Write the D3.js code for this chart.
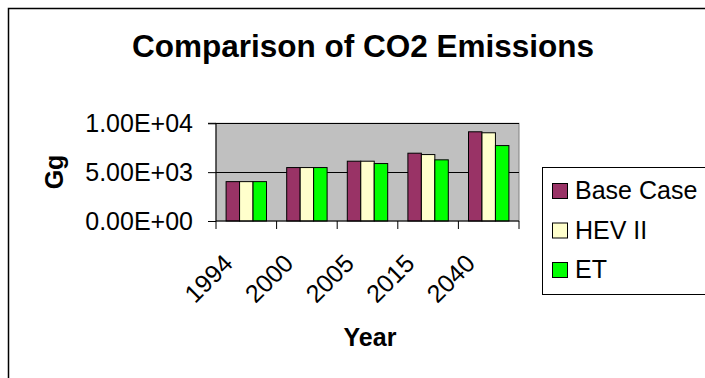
<!DOCTYPE html>
<html><head><meta charset="utf-8">
<script src="https://cdn.jsdelivr.net/npm/d3@7"></script>
<style>html,body{margin:0;padding:0;background:#fff;}svg{display:block;font-family:"Liberation Sans",Arial,sans-serif;}</style>
</head><body><svg id="c" width="705" height="378"></svg>
<script>
const categories = ["1994","2000","2005","2015","2040"];
const seriesNames = ["Base Case","HEV II","ET"];
const baseCase = [4030, 5470, 6120, 6940, 9130];
const hevII    = [4030, 5470, 6120, 6800, 9030];
const et       = [4030, 5470, 5880, 6260, 7720];
const yTicks = [0, 5000, 10000];
const colors = ["#993366","#ffffcc","#00ff00"];

const values = [baseCase, hevII, et];
const svg = d3.select("#c");
const P = {l:216, r:519, t:123.3, b:221};

svg.append("rect").attr("x",8.5).attr("y",8.5).attr("width",760).attr("height",420)
  .attr("fill","#fff").attr("stroke","#000").attr("stroke-width",1.5);

svg.append("text").attr("x",363).attr("y",57).attr("text-anchor","middle")
  .attr("font-size",31.5).attr("font-weight","bold").text("Comparison of CO2 Emissions");

const x0 = d3.scaleBand().domain(categories).range([P.l,P.r]).padding(0);
const bw = x0.bandwidth()/4.5;
const x1 = d3.scaleBand().domain(seriesNames).range([bw*0.75, bw*3.75]).padding(0);
const y = d3.scaleLinear().domain([0,10000]).range([P.b,P.t]);

svg.append("rect").attr("x",P.l).attr("y",P.t).attr("width",P.r-P.l).attr("height",P.b-P.t)
  .attr("fill","#c0c0c0").attr("stroke","#808080").attr("stroke-width",1);

svg.append("g").selectAll("line").data(yTicks.filter(d=>d>0)).join("line")
  .attr("x1",P.l).attr("x2",P.r).attr("y1",d=>Math.round(y(d))+0.5).attr("y2",d=>Math.round(y(d))+0.5)
  .attr("stroke","#000").attr("stroke-width",1);

const g = svg.append("g");
categories.forEach((c,i)=>{
  seriesNames.forEach((s,j)=>{
    g.append("rect").attr("x",x0(c)+x1(s)).attr("y",y(values[j][i]))
     .attr("width",x1.bandwidth()).attr("height",P.b-y(values[j][i]))
     .attr("fill",colors[j]).attr("stroke","#000").attr("stroke-width",1);
  });
});

// y axis
const ya = d3.axisLeft(y).tickValues(yTicks).tickSize(8).tickPadding(15)
  .tickFormat(d=>d3.format(".2e")(d).replace(/e([+-])(\d)$/,"e$10$2").toUpperCase());
const yg = svg.append("g").attr("transform",`translate(${P.l},0)`).call(ya);
yg.selectAll("text").attr("font-size",25).attr("font-family","Liberation Sans, Arial, sans-serif").attr("fill","#000");
yg.selectAll("line,path").attr("stroke","#000");
yg.select("path").attr("d",`M-8,${P.t}H0V${P.b}`);

// x axis
const xa = d3.axisBottom(x0).tickSize(0).tickFormat("");
const xg = svg.append("g").attr("transform",`translate(0,${P.b})`).call(xa);
xg.select("path").attr("d",`M${P.l},0H${P.r}`).attr("stroke","#000");
const bounds = categories.map(c=>x0(c)).concat([P.r]);
xg.selectAll(".bt").data(bounds).join("line").attr("class","bt")
  .attr("x1",d=>d).attr("x2",d=>d).attr("y1",0).attr("y2",8).attr("stroke","#000");
svg.append("g").selectAll("text").data(categories).join("text")
  .attr("transform",d=>`translate(${x0(d)+x0.bandwidth()/2-12},${P.b+44}) rotate(-45)`)
  .attr("text-anchor","end").attr("font-size",25).text(d=>d);

svg.append("text").attr("transform","translate(63,172) rotate(-90)").attr("text-anchor","middle")
  .attr("font-size",25).attr("font-weight","bold").text("Gg");
svg.append("text").attr("x",370).attr("y",346).attr("text-anchor","middle")
  .attr("font-size",25).attr("font-weight","bold").text("Year");

// legend
svg.append("rect").attr("x",542.5).attr("y",167.5).attr("width",200).attr("height",127)
  .attr("fill","#fff").attr("stroke","#000").attr("stroke-width",1);
const lg = svg.append("g").selectAll("g").data(seriesNames).join("g")
  .attr("transform",(d,i)=>`translate(552,${191+i*39.5})`);
lg.append("rect").attr("x",0.5).attr("y",-7.5).attr("width",15).attr("height",15)
  .attr("fill",(d,i)=>colors[i]).attr("stroke","#000");
lg.append("text").attr("x",23).attr("y",8).attr("font-size",25).text(d=>d);
</script></body></html>
